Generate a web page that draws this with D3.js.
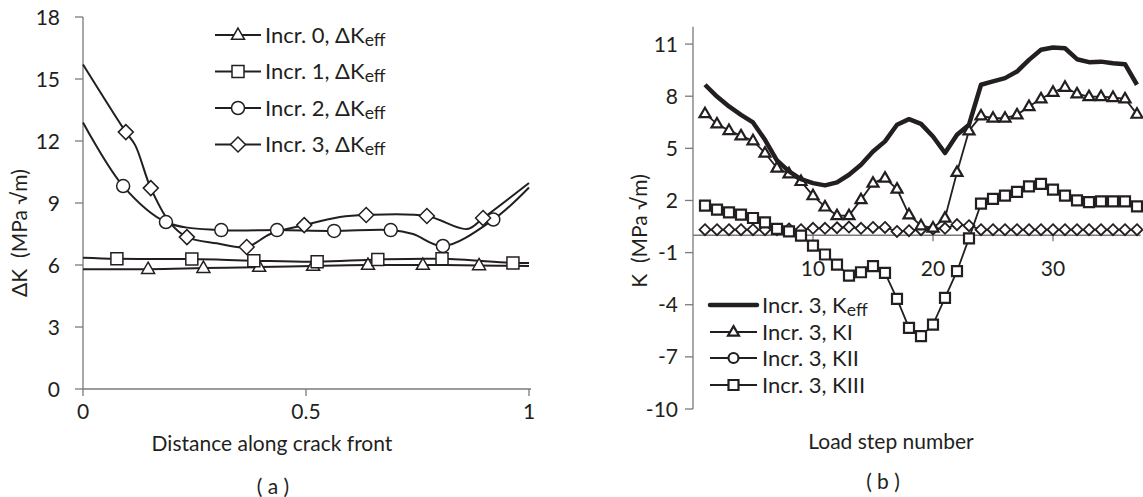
<!DOCTYPE html>
<html>
<head>
<meta charset="utf-8">
<script src="https://cdn.jsdelivr.net/npm/d3@7/dist/d3.min.js"></script>
<style>
  html, body { margin: 0; padding: 0; background: #fff; }
  svg { display: block; }
  text { font-family: Lato, "Open Sans", sans-serif; fill: #231f20; }
</style>
</head>
<body>
<svg id="fig" width="1143" height="497"></svg>
<script>
// ---------- (a) ΔK_eff along the crack front, four increments ----------
const inc0Pos = [0, 0.146, 0.27, 0.395, 0.516, 0.639, 0.762, 0.888, 1.0];
const inc0Val = [5.8, 5.8, 5.85, 5.9, 5.95, 6.0, 6.0, 5.98, 5.95];
const inc0Mark = [1, 2, 3, 4, 5, 6, 7];

const inc1Pos = [0, 0.076, 0.244, 0.383, 0.525, 0.661, 0.805, 0.964, 1.0];
const inc1Val = [6.35, 6.3, 6.29, 6.21, 6.16, 6.27, 6.3, 6.1, 6.1];
const inc1Mark = [1, 2, 3, 4, 5, 6, 7];

const inc2Pos = [0, 0.09, 0.186, 0.31, 0.435, 0.563, 0.69, 0.74, 0.807, 0.92, 1.0];
const inc2Val = [12.9, 9.82, 8.08, 7.69, 7.69, 7.65, 7.69, 7.5, 6.92, 8.2, 9.75];
const inc2Mark = [1, 2, 3, 4, 5, 6, 8, 9];

const inc3Pos = [0, 0.096, 0.117, 0.152, 0.195, 0.233, 0.3, 0.367, 0.42, 0.496, 0.576, 0.635, 0.771, 0.861, 0.897, 1.0];
const inc3Val = [15.7, 12.43, 11.8, 9.72, 8.05, 7.35, 7.05, 6.87, 7.5, 7.93, 8.32, 8.42, 8.37, 7.74, 8.27, 9.97];
const inc3Mark = [1, 3, 5, 7, 9, 11, 12, 14];

const leftYTicks = [0, 3, 6, 9, 12, 15, 18];
const leftXTicks = [0, 0.5, 1];
const leftLabels = ["Incr. 0, ΔK", "Incr. 1, ΔK", "Incr. 2, ΔK", "Incr. 3, ΔK"];

// ---------- (b) stress intensity factors per load step, increment 3 ----------
const loadSteps = [1, 2, 3, 4, 5, 6, 7, 8, 9, 10, 11, 12, 13, 14, 15, 16, 17, 18, 19,
                   20, 21, 22, 23, 24, 25, 26, 27, 28, 29, 30, 31, 32, 33, 34, 35, 36, 37];
const kEff  = [8.66, 7.98, 7.41, 6.93, 6.49, 5.49, 4.30, 3.67, 3.23, 3.0, 2.87, 3.04, 3.48,
               4.06, 4.82, 5.4, 6.36, 6.68, 6.41, 5.68, 4.73, 5.78, 6.36, 8.66, 8.85, 9.04,
               9.42, 10.09, 10.67, 10.8, 10.76, 10.13, 9.96, 9.99, 9.9, 9.84, 8.66];
const kI    = [7.0, 6.41, 6.03, 5.72, 5.44, 4.73, 3.87, 3.54, 3.1, 2.28, 1.63, 1.13, 1.13,
               2.05, 3.0, 3.29, 2.66, 1.18, 0.55, 0.42, 0.99, 3.62, 6.01, 6.87, 6.74, 6.74,
               6.93, 7.41, 7.85, 8.23, 8.52, 8.14, 7.98, 7.98, 7.93, 7.85, 6.97];
const kII   = [0.32, 0.32, 0.32, 0.32, 0.32, 0.32, 0.32, 0.36, 0.32, 0.4, 0.4, 0.43, 0.47,
               0.4, 0.45, 0.45, 0.22, 0.26, 0.32, 0.36, 0.4, 0.61, 0.55, 0.32, 0.32, 0.32,
               0.32, 0.32, 0.32, 0.32, 0.32, 0.32, 0.32, 0.32, 0.32, 0.32, 0.32];
const kIII  = [1.70, 1.47, 1.32, 1.18, 0.99, 0.74, 0.36, 0.22, -0.02, -0.6, -1.11, -1.69, -2.32,
               -2.13, -1.78, -2.17, -3.66, -5.33, -5.81, -5.14, -3.61, -2.07, -0.18, 1.82, 2.09,
               2.28, 2.49, 2.81, 2.95, 2.62, 2.28, 2.01, 1.91, 1.95, 1.95, 1.95, 1.66];

const rightYTicks = [-10, -7, -4, -1, 2, 5, 8, 11];
const rightXTicks = [10, 20, 30];
const rightLabels = ["Incr. 3, K", "Incr. 3, KI", "Incr. 3, KII", "Incr. 3, KIII"];

const INK = "#231f20";
const AXIS = "#7a7a7a";
const TICK_FS = 21, TITLE_FS = 21, LEG_FS = 22;
const svg = d3.select("#fig");

// marker shapes centred on (0,0)
function markerPath(kind, s) {
  const h = s / 2;
  if (kind === "triangle") {
    const t = s * 0.866;
    return `M0,${-t * 0.62}L${h},${t * 0.38}L${-h},${t * 0.38}Z`;
  }
  if (kind === "square") return `M${-h},${-h}H${h}V${h}H${-h}Z`;
  return `M0,${-h}L${h},0L0,${h}L${-h},0Z`;
}
function drawMarker(g, kind, x, y, s, sw) {
  if (kind === "circle") {
    g.append("circle").attr("cx", x).attr("cy", y).attr("r", s / 2)
      .attr("fill", "#fff").attr("stroke", INK).attr("stroke-width", sw);
  } else {
    g.append("path").attr("d", markerPath(kind, s))
      .attr("transform", `translate(${x},${y})`)
      .attr("fill", "#fff").attr("stroke", INK).attr("stroke-width", sw);
  }
}
function subLabel(g, x, y, main, sub, size) {
  const t = g.append("text").attr("x", x).attr("y", y).attr("font-size", size);
  t.append("tspan").text(main);
  if (sub) t.append("tspan").attr("font-size", size * 0.8).attr("dy", 3).text(sub);
}

// ================= panel (a) =================
{
  const x = d3.scaleLinear().domain([0, 1]).range([83, 529]);
  const y = d3.scaleLinear().domain([0, 18]).range([389, 17]);
  const g = svg.append("g");

  // axes
  g.append("line").attr("x1", x(0)).attr("x2", x(1) + 2).attr("y1", y(0)).attr("y2", y(0))
    .attr("stroke", AXIS).attr("stroke-width", 1.3);
  g.append("line").attr("x1", x(0)).attr("x2", x(0)).attr("y1", y(0)).attr("y2", y(18))
    .attr("stroke", AXIS).attr("stroke-width", 1.3);
  leftYTicks.forEach(v => {
    g.append("line").attr("x1", x(0) - 8).attr("x2", x(0)).attr("y1", y(v)).attr("y2", y(v))
      .attr("stroke", AXIS).attr("stroke-width", 1.3);
    g.append("text").attr("x", 60).attr("y", y(v)).attr("dy", "0.36em")
      .attr("text-anchor", "end").attr("font-size", TICK_FS).text(v);
  });
  leftXTicks.forEach(v => {
    g.append("line").attr("x1", x(v)).attr("x2", x(v)).attr("y1", y(0)).attr("y2", y(0) + 7)
      .attr("stroke", AXIS).attr("stroke-width", 1.3);
    g.append("text").attr("x", x(v)).attr("y", 419).attr("text-anchor", "middle")
      .attr("font-size", TICK_FS).text(v);
  });
  g.append("text").attr("x", 272).attr("y", 451).attr("text-anchor", "middle")
    .attr("font-size", TITLE_FS).text("Distance along crack front");
  g.append("text").attr("x", 273).attr("y", 494).attr("text-anchor", "middle")
    .attr("font-size", TITLE_FS).attr("xml:space", "preserve").text("( a )");
  g.append("text").attr("transform", "translate(27,233) rotate(-90)")
    .attr("text-anchor", "middle").attr("font-size", TITLE_FS).attr("xml:space", "preserve")
    .text("ΔK  (MPa √m)");

  const line = d3.line().curve(d3.curveCatmullRom.alpha(0.5))
    .x(d => x(d[0])).y(d => y(d[1]));
  const series = [
    { pos: inc0Pos, val: inc0Val, mark: inc0Mark, kind: "triangle", size: 13 },
    { pos: inc1Pos, val: inc1Val, mark: inc1Mark, kind: "square", size: 12 },
    { pos: inc2Pos, val: inc2Val, mark: inc2Mark, kind: "circle", size: 13 },
    { pos: inc3Pos, val: inc3Val, mark: inc3Mark, kind: "diamond", size: 15 }
  ];
  series.forEach(s => {
    const pts = s.pos.map((p, i) => [p, s.val[i]]);
    g.append("path").attr("d", line(pts)).attr("fill", "none")
      .attr("stroke", INK).attr("stroke-width", 2);
  });
  series.forEach(s => {
    s.mark.forEach(i => drawMarker(g, s.kind, x(s.pos[i]), y(s.val[i]), s.size, 1.5));
  });

  // legend
  const rowsY = [35, 71.5, 108, 144.5];
  series.forEach((s, i) => {
    g.append("line").attr("x1", 215).attr("x2", 261).attr("y1", rowsY[i]).attr("y2", rowsY[i])
      .attr("stroke", INK).attr("stroke-width", 2);
    drawMarker(g, s.kind, 238, rowsY[i], s.size, 1.5);
    subLabel(g, 265, rowsY[i] + 7.5, leftLabels[i], "eff", LEG_FS);
  });
}

// ================= panel (b) =================
{
  const x = d3.scaleLinear().domain([0, 37.3]).range([693, 1140.6]);
  const y = d3.scaleLinear().domain([-10, 12]).range([409, 26.7]);
  const g = svg.append("g");

  g.append("line").attr("x1", x(0)).attr("x2", x(0)).attr("y1", y(-10)).attr("y2", y(12))
    .attr("stroke", AXIS).attr("stroke-width", 1.3);
  g.append("line").attr("x1", x(0)).attr("x2", x(37.3)).attr("y1", y(0)).attr("y2", y(0))
    .attr("stroke", AXIS).attr("stroke-width", 1.3);
  rightYTicks.forEach(v => {
    g.append("line").attr("x1", x(0) - 8).attr("x2", x(0)).attr("y1", y(v)).attr("y2", y(v))
      .attr("stroke", AXIS).attr("stroke-width", 1.3);
    g.append("text").attr("x", 678).attr("y", y(v)).attr("dy", "0.36em")
      .attr("text-anchor", "end").attr("font-size", TICK_FS).text(v);
  });
  rightXTicks.forEach(v => {
    g.append("line").attr("x1", x(v)).attr("x2", x(v)).attr("y1", y(0)).attr("y2", y(0) + 6)
      .attr("stroke", AXIS).attr("stroke-width", 1.3);
    g.append("text").attr("x", x(v)).attr("y", 276).attr("text-anchor", "middle")
      .attr("font-size", TICK_FS).text(v);
  });
  g.append("text").attr("x", 891).attr("y", 449).attr("text-anchor", "middle")
    .attr("font-size", TITLE_FS).text("Load step number");
  g.append("text").attr("x", 883).attr("y", 489).attr("text-anchor", "middle")
    .attr("font-size", TITLE_FS).attr("xml:space", "preserve").text("( b )");
  g.append("text").attr("transform", "translate(647,231) rotate(-90)")
    .attr("text-anchor", "middle").attr("font-size", TITLE_FS).attr("xml:space", "preserve")
    .text("K  (MPa √m)");

  const line = d3.line().x(d => x(d[0])).y(d => y(d[1]));
  const pts = vals => loadSteps.map((s, i) => [s, vals[i]]);

  // KII (near zero, diamond markers)
  g.append("path").attr("d", line(pts(kII))).attr("fill", "none")
    .attr("stroke", INK).attr("stroke-width", 1.8);
  loadSteps.forEach((s, i) => drawMarker(g, "diamond", x(s), y(kII[i]), 11, 1.8));
  // KIII
  g.append("path").attr("d", line(pts(kIII))).attr("fill", "none")
    .attr("stroke", INK).attr("stroke-width", 1.8);
  loadSteps.forEach((s, i) => drawMarker(g, "square", x(s), y(kIII[i]), 10, 2.2));
  // KI
  g.append("path").attr("d", line(pts(kI))).attr("fill", "none")
    .attr("stroke", INK).attr("stroke-width", 1.8);
  loadSteps.forEach((s, i) => drawMarker(g, "triangle", x(s), y(kI[i]), 11, 2.2));
  // K_eff
  g.append("path").attr("d", line(pts(kEff))).attr("fill", "none")
    .attr("stroke", INK).attr("stroke-width", 4.5).attr("stroke-linejoin", "round");

  // legend
  const rowsY = [305, 332, 358, 385];
  const kinds = [null, "triangle", "circle", "square"];
  const sizes = [0, 11, 10, 10];
  kinds.forEach((k, i) => {
    g.append("line").attr("x1", 710).attr("x2", 757).attr("y1", rowsY[i]).attr("y2", rowsY[i])
      .attr("stroke", INK).attr("stroke-width", i === 0 ? 4.5 : 1.8)
      .attr("stroke-linecap", i === 0 ? "round" : "butt");
    if (k) drawMarker(g, k, 733.5, rowsY[i], sizes[i], 2.2);
    subLabel(g, 762, rowsY[i] + 8, rightLabels[i], i === 0 ? "eff" : null, LEG_FS);
  });
}
</script>
</body>
</html>
